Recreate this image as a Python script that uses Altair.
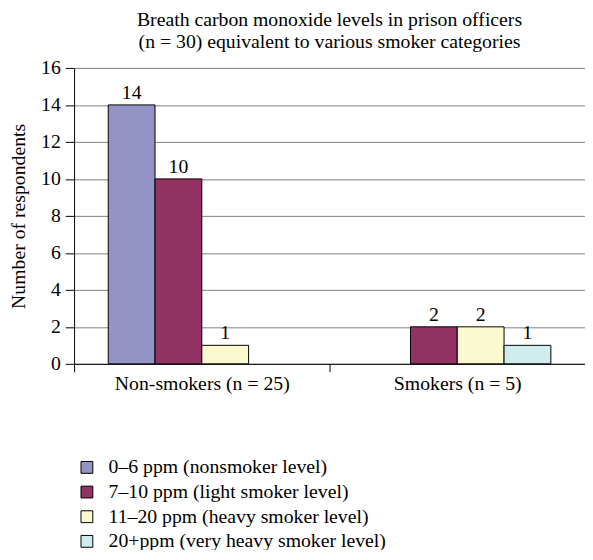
import altair as alt
import pandas as pd

groups = ["Non-smokers (n = 25)", "Smokers (n = 5)"]
levels = [
    "0–6 ppm (nonsmoker level)",
    "7–10 ppm (light smoker level)",
    "11–20 ppm (heavy smoker level)",
    "20+ppm (very heavy smoker level)",
]
non_smokers = [14, 10, 1, 0]
smokers = [0, 2, 2, 1]
colors = ["#9393c6", "#923262", "#fbf9cf", "#cfecef"]

rows = []
for g, vals in zip(groups, [non_smokers, smokers]):
    for i, (lv, v) in enumerate(zip(levels, vals)):
        rows.append({"group": g, "level": lv, "value": v, "order": i})
df = pd.DataFrame(rows)

FONT = "Liberation Serif"
FS = 20

x = alt.X(
    "group:N",
    sort=groups,
    scale=alt.Scale(paddingInner=0, paddingOuter=0),
    axis=alt.Axis(
        title=None,
        labelAngle=0,
        tickBand="extent",
        tickSize=8,
        tickColor="black",
        domainColor="black",
        labelPadding=2,
        labelFontSize=FS,
        labelFont=FONT,
        labelColor="black",
        grid=False,
    ),
)
xo = alt.XOffset(
    "level:N",
    sort=levels,
    scale=alt.Scale(domain=levels, paddingOuter=0.73, paddingInner=0),
)
y = alt.Y(
    "value:Q",
    scale=alt.Scale(domain=[0, 16]),
    axis=alt.Axis(
        title="Number of respondents",
        titleFont=FONT,
        titleFontSize=FS,
        titleFontWeight="normal",
        titleColor="black",
        titlePadding=12,
        values=list(range(0, 17, 2)),
        tickSize=9,
        tickColor="black",
        domainColor="black",
        labelFont=FONT,
        labelFontSize=FS,
        labelColor="black",
        labelPadding=5,
        grid=True,
        gridColor="#808080",
        gridWidth=1,
    ),
)
color = alt.Color(
    "level:N",
    sort=levels,
    scale=alt.Scale(domain=levels, range=colors),
    legend=alt.Legend(
        title=None,
        orient="none",
        legendX=3,
        legendY=395,
        symbolType="square",
        symbolSize=144,
        symbolStrokeColor="black",
        symbolStrokeWidth=1,
        labelFont=FONT,
        labelFontSize=FS,
        labelColor="black",
        labelLimit=500,
        rowPadding=5,
        labelOffset=12,
    ),
)

base = alt.Chart(df).transform_filter("datum.value > 0")

bars = base.mark_bar(stroke="black", strokeWidth=1).encode(
    x=x, xOffset=xo, y=y, color=color
)
labels = base.mark_text(dy=-12, font=FONT, fontSize=FS, color="black").encode(
    x=x, xOffset=xo, y=y, text="value:Q"
)

chart = (
    alt.layer(bars, labels)
    .properties(
        width=518,
        height=300,
        autosize=alt.AutoSizeParams(type="none"),
        padding={"left": 67, "top": 57, "right": 0, "bottom": 185},
        title=alt.TitleParams(
            text=[
                "Breath carbon monoxide levels in prison officers",
                "(n = 30) equivalent to various smoker categories",
            ],
            font=FONT,
            fontSize=FS,
            fontWeight="normal",
            color="black",
            anchor="middle",
            offset=6,
            lineHeight=23,
        ),
    )
    .configure_view(stroke=None)
)

chart.save("out.html", embed_options={"renderer": "svg", "actions": False})
